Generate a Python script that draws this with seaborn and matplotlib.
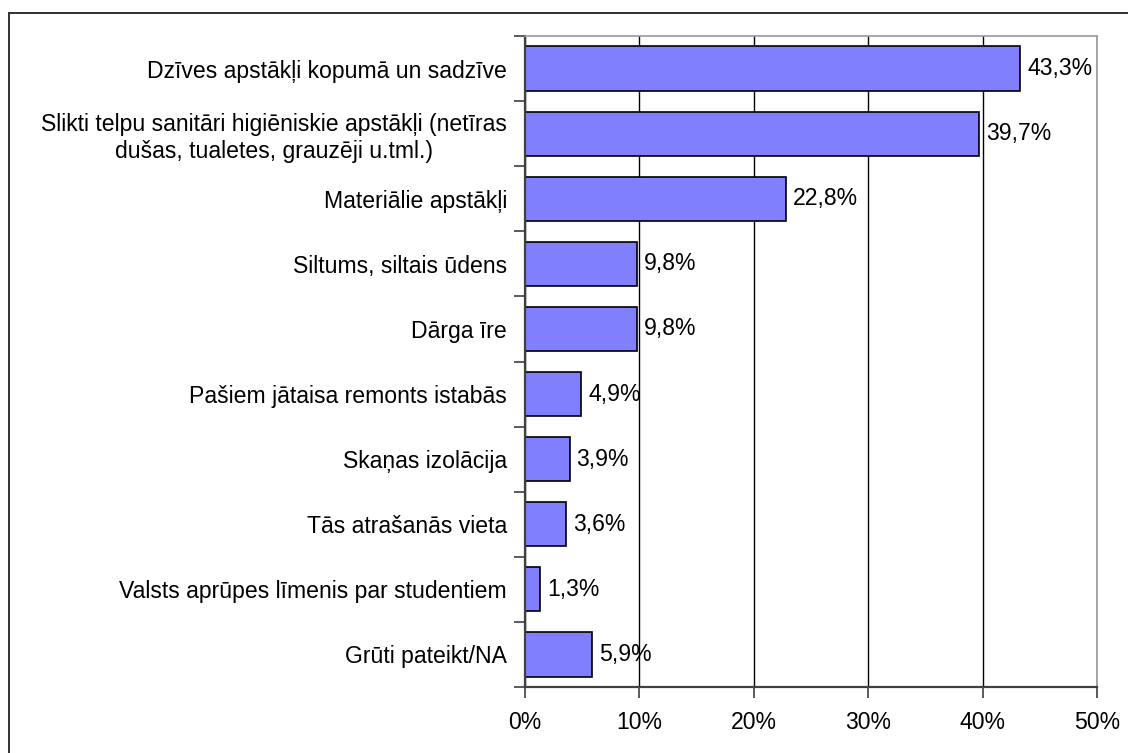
import seaborn as sns
import matplotlib
matplotlib.use('Agg')
import matplotlib.pyplot as plt
import matplotlib.patches as mpatches
import pandas as pd
import numpy as np

# chart data
categories = [
    'Dzīves apstākļi kopumā un sadzīve',
    'Slikti telpu sanitāri higiēniskie apstākļi (netīras\ndušas, tualetes, grauzēji u.tml.)',
    'Materiālie apstākļi',
    'Siltums, siltais ūdens',
    'Dārga īre',
    'Pašiem jātaisa remonts istabās',
    'Skaņas izolācija',
    'Tās atrašanās vieta',
    'Valsts aprūpes līmenis par studentiem',
    'Grūti pateikt/NA',
]
values = [43.3, 39.7, 22.8, 9.8, 9.8, 4.9, 3.9, 3.6, 1.3, 5.9]
x_ticks = [0, 10, 20, 30, 40, 50]
x_tick_labels = ['0%', '10%', '20%', '30%', '40%', '50%']

df = pd.DataFrame({'category': categories, 'value': values})

sns.set_theme(style='white')
plt.rcParams['font.family'] = ['Liberation Sans', 'DejaVu Sans']
fs = 16.6

fig = plt.figure(figsize=(11.28, 7.53), dpi=100)
ax = fig.add_axes([525 / 1128, 1 - 687 / 753, (1097 - 525) / 1128, (687 - 36) / 753])

sns.barplot(data=df, x='value', y='category', orient='h', color='#8080FF',
            saturation=1, width=0.68, edgecolor='black', linewidth=1.2, ax=ax)

ax.set_xlim(0, 50)
ax.set_ylim(len(categories) - 0.5, -0.5)
ax.set_xlabel('')
ax.set_ylabel('')

# vertical gridlines behind bars
ax.set_axisbelow(True)
ax.set_xticks(x_ticks)
ax.set_xticklabels(x_tick_labels, fontsize=fs, color='black')
ax.xaxis.grid(True, color='black', linewidth=1.0)
ax.yaxis.grid(False)

# y ticks between categories, labels in the middle
ax.set_yticks(np.arange(len(categories)))
ax.set_yticklabels(categories, fontsize=fs, color='black')
for t in ax.get_yticklabels():
    t.set_multialignment('center')
ax.set_yticks(np.arange(-0.5, len(categories)), minor=True)
ax.tick_params(axis='y', which='major', length=0, pad=13)
ax.tick_params(axis='y', which='minor', left=True, length=8, width=1.2,
               direction='out', color='#404040')
ax.tick_params(axis='x', which='major', bottom=True, length=8, width=1.2,
               direction='out', color='#404040', pad=9)

for side in ['left', 'bottom']:
    ax.spines[side].set_color('#404040')
    ax.spines[side].set_linewidth(1.6)
for side in ['top', 'right']:
    ax.spines[side].set_visible(True)
    ax.spines[side].set_color('#9a9a9a')
    ax.spines[side].set_linewidth(1.2)

# value labels
for i, v in enumerate(values):
    ax.annotate(f'{v:.1f}%'.replace('.', ','), xy=(v, i), xytext=(5, 0),
                textcoords='offset points', va='center', ha='left',
                fontsize=fs, color='black', annotation_clip=False)

# chart frame
fig.patches.append(mpatches.Rectangle((8.5 / 1128, -0.05), 1.1, 1 - 13 / 753 + 0.05,
                                      transform=fig.transFigure, fill=False,
                                      edgecolor='#303030', linewidth=1.4))

fig.savefig('out.png', dpi=100)
